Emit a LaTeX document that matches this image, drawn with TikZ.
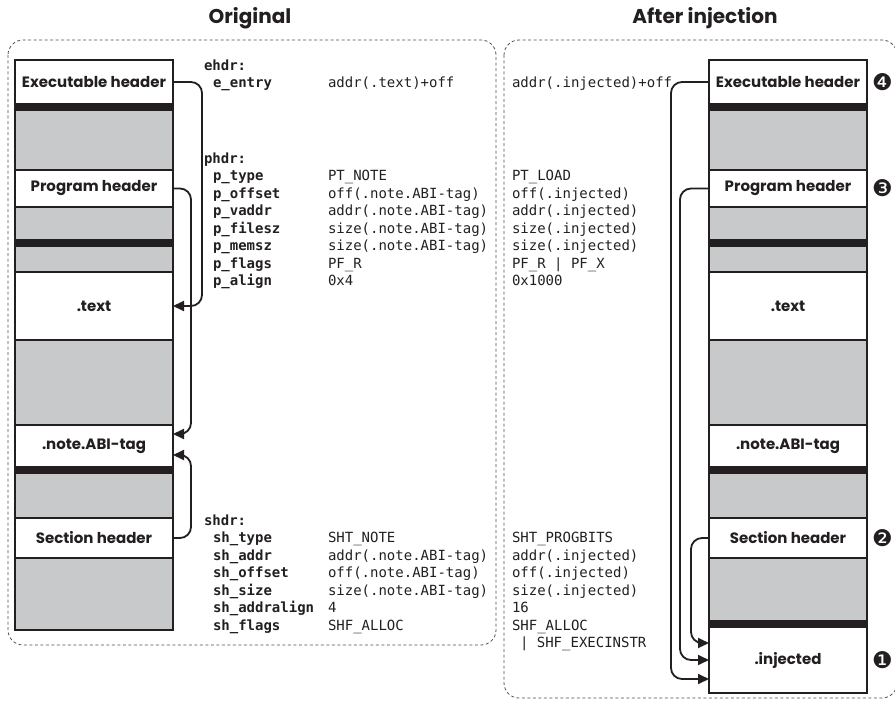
\documentclass[tikz,border=0pt]{standalone}
\usepackage{fontspec}
\setsansfont{Poppins}
\setmonofont{DejaVu Sans Mono}
\newfontfamily\dingfont{DejaVu Sans}
\usepackage{tikz}
\usetikzlibrary{positioning,%
  calc,%
  arrows.meta}

\definecolor{inkblack}{RGB}{35,31,32}
\definecolor{seggrey}{RGB}{200,201,203}
\definecolor{framegrey}{RGB}{80,80,80}

\begin{document}
\begin{tikzpicture}
                    [
                        x=1pt, y=-1pt,
                        every node/.style={text=inkblack, outer sep=0pt},
                        seg/.style={draw=inkblack, line width=1.3pt, minimum width=158pt, inner sep=0pt},
                        whiteseg/.style={seg, fill=white, font=\sffamily\bfseries\fontsize{15}{18}\selectfont},
                        greyseg/.style={seg, fill=seggrey},
                        barseg/.style={seg, fill=inkblack, minimum height=6pt},
                        coltitle/.style={font=\sffamily\bfseries\fontsize{20}{22}\selectfont},
                        keytxt/.style={anchor=base west, inner sep=0pt, font=\ttfamily\bfseries\fontsize{14}{16}\selectfont},
                        valtxt/.style={anchor=base west, inner sep=0pt, font=\ttfamily\fontsize{14}{16}\selectfont},
                        circnum/.style={inner sep=0pt, font=\dingfont\fontsize{23}{23}\selectfont},
                        dashframe/.style={draw=framegrey, line width=0.8pt, dash pattern=on 3pt off 2.5pt, rounded corners=15pt},
                        conn/.style={draw=inkblack, line width=1.8pt, rounded corners=11pt, -{Triangle[length=11pt,width=10pt]}}
                    ]

                    % Rahmen
                    \useasboundingbox (0,0) rectangle (895,701);
                    \draw[dashframe] (8,40) rectangle (496,645);
                    \draw[dashframe] (504,40) rectangle (897,698);

                    % Titel
                    \node[coltitle] (torig) at (250,18) {Original};
                    \node[coltitle] (tinj) at (705,18) {After injection};

                    % Spalten
                    \foreach \s/\cx in {l/94, r/788}
                    {
                        \node[whiteseg, minimum height=44pt] (\s exec) at (\cx,82) {Executable header};
                        \node[barseg, below=0pt of \s exec] (\s bara) {};
                        \node[greyseg, minimum height=60pt, below=0pt of \s bara] (\s greya) {};
                        \node[whiteseg, minimum height=37pt, below=0pt of \s greya] (\s prog) {Program header};
                        \node[greyseg, minimum height=33pt, below=0pt of \s prog] (\s greyb) {};
                        \node[barseg, below=0pt of \s greyb] (\s barb) {};
                        \node[greyseg, minimum height=26pt, below=0pt of \s barb] (\s greyc) {};
                        \node[whiteseg, minimum height=68pt, below=0pt of \s greyc] (\s text) {.text};
                        \node[greyseg, minimum height=85pt, below=0pt of \s text] (\s greyd) {};
                        \node[whiteseg, minimum height=42pt, below=0pt of \s greyd] (\s note) {.note.ABI-tag};
                        \node[barseg, below=0pt of \s note] (\s barc) {};
                        \node[greyseg, minimum height=45pt, below=0pt of \s barc] (\s greye) {};
                        \node[whiteseg, minimum height=40pt, below=0pt of \s greye] (\s sect) {Section header};
                    }
                    \node[greyseg, minimum height=72pt, below=0pt of lsect] (lgreyf) {};
                    \node[greyseg, minimum height=63pt, below=0pt of rsect] (rgreyf) {};
                    \node[barseg, below=0pt of rgreyf] (rbard) {};
                    \node[whiteseg, minimum height=66pt, below=0pt of rbard] (rinj) {.injected};

                    % Nummern
                    \node[circnum, right=5pt of rexec] (nfour) {❹};
                    \node[circnum, right=5pt of rprog] (nthree) {❸};
                    \node[circnum, right=5pt of rsect] (ntwo) {❷};
                    \node[circnum, right=5pt of rinj] (none) {❶};

                    % ehdr
                    \node[keytxt] (ehdr) at (204,71) {ehdr:};
                    \node[keytxt] (eentry) at (213,88) {e\_entry};
                    \node[valtxt] (eorig) at (328,88) {addr(.text)+off};
                    \node[valtxt] (einj) at (512,88) {addr(.injected)+off};

                    % phdr
                    \node[keytxt] (phdr) at (204,163) {phdr:};
                    \foreach \k/\a/\b [count=\i] in {p\_type/PT\_NOTE/PT\_LOAD,
                        p\_offset/off(.note.ABI-tag)/off(.injected),
                        p\_vaddr/addr(.note.ABI-tag)/addr(.injected),
                        p\_filesz/size(.note.ABI-tag)/size(.injected),
                        p\_memsz/size(.note.ABI-tag)/size(.injected),
                        p\_flags/PF\_R/PF\_R | PF\_X,
                        p\_align/0x4/0x1000}
                    {
                        \node[keytxt] (pk\i) at (213,{163+17.5*\i}) {\k};
                        \node[valtxt] (pa\i) at (328,{163+17.5*\i}) {\a};
                        \node[valtxt] (pb\i) at (512,{163+17.5*\i}) {\b};
                    }

                    % shdr
                    \node[keytxt] (shdr) at (204,525) {shdr:};
                    \foreach \k/\a/\b [count=\i] in {sh\_type/SHT\_NOTE/SHT\_PROGBITS,
                        sh\_addr/addr(.note.ABI-tag)/addr(.injected),
                        sh\_offset/off(.note.ABI-tag)/off(.injected),
                        sh\_size/size(.note.ABI-tag)/size(.injected),
                        sh\_addralign/4/16,
                        sh\_flags/SHF\_ALLOC/SHF\_ALLOC}
                    {
                        \node[keytxt] (sk\i) at (213,{525+17.5*\i}) {\k};
                        \node[valtxt] (sa\i) at (328,{525+17.5*\i}) {\a};
                        \node[valtxt] (sb\i) at (512,{525+17.5*\i}) {\b};
                    }
                    \node[valtxt] (sbx) at (520,647.5) {| SHF\_EXECINSTR};

                    % Pfeile links
                    \draw[conn] (lexec.east) -- ++(29,0) |- (ltext.east);
                    \draw[conn] (lprog.east) -- ++(18,0) |- ($(lnote.east)+(0,-12)$);
                    \draw[conn] (lsect.east) -- ++(18,0) |- ($(lnote.east)+(0,9)$);

                    % Pfeile rechts
                    \draw[conn] (rexec.west) -- ++(-38,0) |- ($(rinj.west)+(0,19)$);
                    \draw[conn] (rprog.west) -- ++(-29,0) |- (rinj.west);
                    \draw[conn] (rsect.west) -- ++(-18,0) |- ($(rinj.west)+(0,-17)$);
                \end{tikzpicture}
\end{document}
